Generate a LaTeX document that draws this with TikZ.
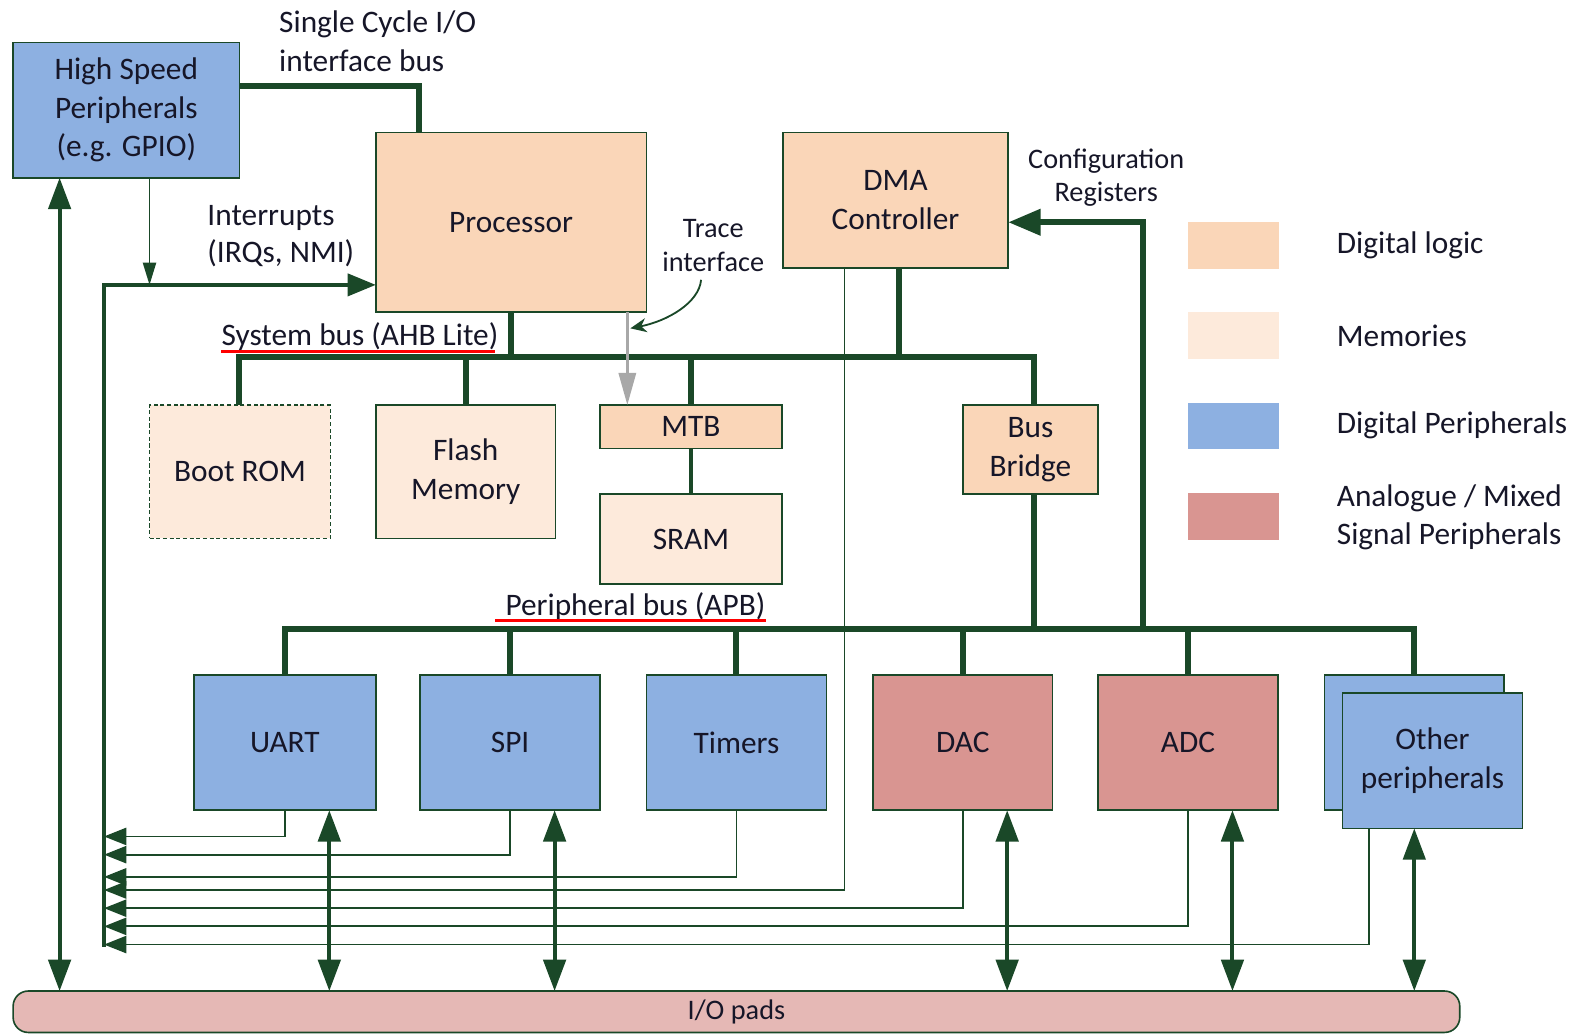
\documentclass[tikz,border=0pt]{standalone}
\usepackage{fontspec}
\setmainfont{Carlito}
\usetikzlibrary{arrows.meta,calc}
\definecolor{dg}{RGB}{26,72,40}
\definecolor{diglog}{RGB}{250,214,184}
\definecolor{mem}{RGB}{253,234,219}
\definecolor{digper}{RGB}{141,176,225}
\definecolor{ana}{RGB}{217,149,145}
\definecolor{padc}{RGB}{229,184,181}
\definecolor{txt}{RGB}{22,22,40}
\definecolor{gry}{RGB}{168,168,168}
\begin{document}
\begin{tikzpicture}[x=0.5pt,y=-0.5pt,
  box/.style={draw=dg, line width=0.8pt, inner sep=0pt, outer sep=0pt, align=center, text=txt,
    font=\fontsize{15.5}{19}\selectfont},
  legbox/.style={inner sep=0pt, outer sep=0pt, minimum width=45pt, minimum height=23pt},
  lbl/.style={inner sep=0pt, align=center, text=txt, font=\fontsize{15.5}{19}\selectfont},
  slbl/.style={inner sep=0pt, align=center, text=txt, font=\fontsize{14}{16.5}\selectfont},
  bus/.style={draw=dg, line width=3pt},
  midline/.style={draw=dg, line width=1.6pt},
  irqline/.style={draw=dg, line width=1.8pt},
  sig/.style={draw=dg, line width=0.9pt, -{Triangle[length=11pt,width=8.5pt]}},
  bidir/.style={draw=dg, line width=2pt, {Triangle[length=15.5pt,width=11pt]}-{Triangle[length=15.5pt,width=11pt]}},
  redline/.style={draw=red, line width=1.5pt}
]
\useasboundingbox (0,0) rectangle (1568,1024);

% ---------- boxes ----------
\node[box, fill=digper, minimum width=112pt, minimum height=67pt] (hsp) at (125,109) {High Speed\\Peripherals\\(e.g. GPIO)};
\node[box, fill=diglog, minimum width=134pt, minimum height=89pt] (proc) at (506,220) {Processor};
\node[box, fill=diglog, minimum width=111.5pt, minimum height=67pt] (dma) at (886.5,198) {DMA\\Controller};
\node[box, fill=mem, dashed, dash pattern=on 2pt off 1.3pt, minimum width=89.5pt, minimum height=66pt] (boot) at (237.5,467) {Boot ROM};
\node[box, fill=mem, minimum width=89pt, minimum height=66pt] (flash) at (461,467) {Flash\\Memory};
\node[box, fill=diglog, minimum width=90pt, minimum height=21.5pt] (mtb) at (684,422.5) {MTB};
\node[box, fill=mem, minimum width=90pt, minimum height=44.5pt] (sram) at (684,533.5) {SRAM};
\node[box, fill=diglog, minimum width=67pt, minimum height=44pt] (bridge) at (1020,445) {Bus\\Bridge};
\node[box, fill=digper, minimum width=90pt, minimum height=67pt] (uart) at (282,735) {UART};
\node[box, fill=digper, minimum width=89pt, minimum height=67pt] (spi) at (505,735) {SPI};
\node[box, fill=digper, minimum width=89pt, minimum height=67pt] (timers) at (729,735) {Timers};
\node[box, fill=ana, minimum width=89pt, minimum height=67pt] (dac) at (953,735) {DAC};
\node[box, fill=ana, minimum width=89pt, minimum height=67pt] (adc) at (1176,735) {ADC};
\node[box, fill=digper, minimum width=89pt, minimum height=67pt] (othb) at (1400,735) {};
\node[box, fill=digper, minimum width=89pt, minimum height=67pt] (oth) at (1418,753) {Other\\peripherals};
\node[box, fill=padc, rounded corners=7.5pt, font=\fontsize{14}{16.5}\selectfont, minimum width=716pt, minimum height=20.5pt] (pads) at (729,1001.5) {I/O pads};

% ---------- legend ----------
\node[legbox, fill=diglog] (lg1) at (1221,243) {};
\node[legbox, fill=mem] (lg2) at (1221,332) {};
\node[legbox, fill=digper] (lg3) at (1221,421.5) {};
\node[legbox, fill=ana] (lg4) at (1221,511.5) {};
\node[lbl, anchor=west] (lt1) at (1323,243) {Digital logic};
\node[lbl, anchor=west] (lt2) at (1323,332) {Memories};
\node[lbl, anchor=west] (lt3) at (1323,421) {Digital Peripherals};
\node[lbl, anchor=west, align=left] (lt4) at (1323,512) {Analogue / Mixed\\Signal Peripherals};

% ---------- labels ----------
\node[lbl, anchor=west, align=left] (sclbl) at (276,41) {Single Cycle I/O\\interface bus};
\node[lbl, anchor=west, align=left, font=\fontsize{15.5}{18.5}\selectfont] (irqlbl) at (205,234) {Interrupts\\(IRQs, NMI)};
\node[slbl] (trlbl) at (706,243) {Trace\\interface};
\node[slbl] (cfglbl) at (1095,176) {Configuration\\Registers};
\node[lbl, anchor=base west] (syslbl) at (219,342) {System bus (AHB Lite)};
\node[lbl, anchor=base west] (apblbl) at (500,609) {Peripheral bus (APB)};

% ---------- coordinates ----------
\coordinate (sysL) at (237,353);
\coordinate (sysR) at (1024,353);
\coordinate (apbL) at (282,623);
\coordinate (apbR) at (1400,623);
\coordinate (sc) at (415,85);
\coordinate (cfg) at (1131,220);
\coordinate (irqT) at (103,282);
\coordinate (irqB) at (103,937);
\coordinate (hspx) at (148,282);
\coordinate (dmax) at (890,0);
\coordinate (dmathin) at (836,881);
\coordinate (othx) at (1355,935);
\coordinate (trx) at (621,0);
\coordinate (curS) at (694,277);
\coordinate (curE) at (624,325);
\coordinate (b0) at (59,0);
\coordinate (b1) at (326,0);
\coordinate (b2) at (549,0);
\coordinate (b3) at (997,0);
\coordinate (b4) at (1220,0);
\coordinate (b5) at (1400,0);
\coordinate (s1) at (0,828);
\coordinate (s2) at (0,846);
\coordinate (s3) at (0,868);
\coordinate (s6) at (0,899);
\coordinate (s7) at (0,917);
\coordinate (ul1a) at (219,348);
\coordinate (ul1b) at (490,348);
\coordinate (ul2a) at (490,614);
\coordinate (ul2b) at (758,614);

% ---------- system bus ----------
\draw[bus] (sysL |- boot.north) -- (sysL) -- (sysR) -- (sysR |- bridge.north);
\draw[bus] (proc.south) -- (proc.south |- sysL);
\draw[bus] (dmax |- dma.south) -- (dmax |- sysL);
\draw[bus] (flash.north) -- (flash.north |- sysL);
\draw[bus] (mtb.north) -- (mtb.north |- sysL);
\draw[midline] (mtb.south) -- (sram.north);
\draw[bus] (sysR |- bridge.south) -- (sysR |- apbL);

% ---------- peripheral bus ----------
\draw[bus] (apbL |- uart.north) -- (apbL) -- (apbR) -- (apbR |- othb.north);
\draw[bus] (spi.north) -- (spi.north |- apbL);
\draw[bus] (timers.north) -- (timers.north |- apbL);
\draw[bus] (dac.north) -- (dac.north |- apbL);
\draw[bus] (adc.north) -- (adc.north |- apbL);
\draw[bus, -{Triangle[length=16pt,width=12.5pt]}] (cfg |- apbL) -- (cfg) -- (dma.east |- cfg);

% ---------- single cycle I/O bus ----------
\draw[bus] (hsp.east |- sc) -- (sc) -- (sc |- proc.north);

% ---------- interrupts ----------
\draw[irqline, -{Triangle[length=14pt,width=11pt]}] (irqB) -- (irqT) -- (proc.west |- irqT);
\draw[draw=dg, line width=0.9pt, -{Triangle[length=11pt,width=6.5pt]}] (hsp.south -| hspx) -- (hspx);
\draw[sig] (uart.south) |- (irqT |- s1);
\draw[sig] (spi.south) |- (irqT |- s2);
\draw[sig] (timers.south) |- (irqT |- s3);
\draw[sig] (dmathin |- dma.south) |- (irqT |- dmathin);
\draw[sig] (dac.south) |- (irqT |- s6);
\draw[sig] (adc.south) |- (irqT |- s7);
\draw[sig] (othx |- oth.south) |- (irqT |- othx);

% ---------- I/O ----------
\draw[bidir] (b0 |- hsp.south) -- (b0 |- pads.north);
\draw[bidir] (b1 |- uart.south) -- (b1 |- pads.north);
\draw[bidir] (b2 |- spi.south) -- (b2 |- pads.north);
\draw[bidir] (b3 |- dac.south) -- (b3 |- pads.north);
\draw[bidir] (b4 |- adc.south) -- (b4 |- pads.north);
\draw[bidir] (b5 |- oth.south) -- (b5 |- pads.north);

% ---------- trace ----------
\draw[draw=gry, line width=1.5pt, -{Triangle[length=16pt,width=8.5pt]}] (trx |- proc.south) -- (trx |- mtb.north);
\draw[draw=dg, line width=0.9pt, -{Stealth[length=8pt,width=7pt]}] (curS) .. controls (692,300) and (660,318) .. (curE);

% ---------- underlines ----------
\draw[redline] (ul1a) -- (ul1b);
\draw[redline] (ul2a) -- (ul2b);
\end{tikzpicture}
\end{document}
